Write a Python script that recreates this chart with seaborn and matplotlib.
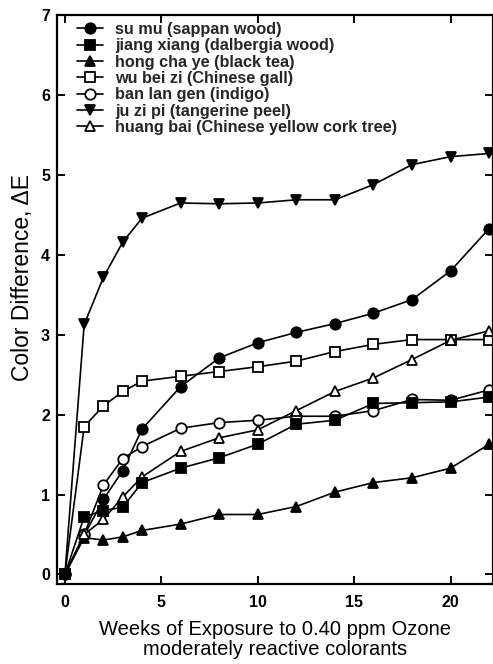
import numpy as np
import pandas as pd
import matplotlib
matplotlib.use("Agg")
import matplotlib.pyplot as plt
import seaborn as sns

# DADOS
semanas = [0, 1, 2, 3, 4, 6, 8, 10, 12, 14, 16, 18, 20, 22]

su_mu = [0, 0.49, 0.94, 1.30, 1.82, 2.35, 2.71, 2.90, 3.03, 3.14, 3.27, 3.44, 3.80, 4.33]
jiang_xiang = [0, 0.72, 0.80, 0.84, 1.15, 1.33, 1.46, 1.63, 1.88, 1.93, 2.14, 2.15, 2.16, 2.22]
hong_cha_ye = [0, 0.46, 0.43, 0.47, 0.55, 0.63, 0.75, 0.75, 0.85, 1.03, 1.15, 1.21, 1.33, 1.63]
wu_bei_zi = [0, 1.85, 2.11, 2.29, 2.42, 2.48, 2.54, 2.60, 2.67, 2.79, 2.88, 2.94, 2.94, 2.94]
ban_lan_gen = [0, 0.50, 1.12, 1.45, 1.60, 1.83, 1.90, 1.93, 1.98, 1.98, 2.05, 2.19, 2.18, 2.31]
ju_zi_pi = [0, 3.13, 3.72, 4.16, 4.46, 4.65, 4.64, 4.65, 4.69, 4.69, 4.88, 5.13, 5.23, 5.27]
huang_bai = [0, 0.50, 0.69, 0.97, 1.22, 1.54, 1.71, 1.81, 2.05, 2.29, 2.46, 2.69, 2.93, 3.05]

nomes = ["su mu (sappan wood)", "jiang xiang (dalbergia wood)", "hong cha ye (black tea)",
         "wu bei zi (Chinese gall)", "ban lan gen (indigo)", "ju zi pi (tangerine peel)",
         "huang bai (Chinese yellow cork tree)"]
series = [su_mu, jiang_xiang, hong_cha_ye, wu_bei_zi, ban_lan_gen, ju_zi_pi, huang_bai]
marcadores = ["o", "s", "^", "s", "o", "v", "^"]
preenchido = [True, True, True, False, False, True, False]

sns.set_theme(style="ticks")
plt.rcParams['font.family'] = ['Liberation Sans', 'DejaVu Sans']

fig = plt.figure(figsize=(4.93, 6.64), dpi=100)
ax = fig.add_axes([0.1156, 0.1205, 0.8844, 0.8565])

for i, (nome, vals, mk, cheio) in enumerate(zip(nomes, series, marcadores, preenchido)):
    df = pd.DataFrame({'semana': semanas, 'dE': vals})
    # quadrado cheio fica por cima na origem, como no original
    z = 3 if i == 1 else 2
    sns.lineplot(data=df, x='semana', y='dE', ax=ax, color='black', linewidth=1.2,
                 marker=mk, markersize=7.5, markeredgewidth=1.3,
                 markerfacecolor='black' if cheio else 'white',
                 markeredgecolor='black', label=nome, zorder=z)

ax.set_xlim(-0.41, 22.2)
ax.set_ylim(-0.12, 7)
ax.set_xticks([0, 5, 10, 15, 20])
ax.set_yticks(range(0, 8))

for s in ax.spines.values():
    s.set_linewidth(1.6)
    s.set_color('black')
    s.set_zorder(4)
ax.tick_params(direction='in', length=6, width=1.4, top=True, right=True,
               labelsize=11.5, colors='black')
ax.tick_params(axis='x', pad=8)
ax.tick_params(axis='y', pad=5)
for lb in ax.get_xticklabels() + ax.get_yticklabels():
    lb.set_fontweight('bold')

ax.set_xlabel('Weeks of Exposure to 0.40 ppm Ozone\nmoderately reactive colorants',
              fontsize=14.5, labelpad=7, color='black', linespacing=1.1)
ax.set_ylabel('Color Difference, ΔE', fontsize=16.5, color='black')
ax.yaxis.set_label_coords(-0.053, 0.539)

leg = ax.legend(loc='upper left', bbox_to_anchor=(0.045, 0.988), frameon=False,
                handlelength=1.6, handletextpad=0.75, labelspacing=0.08,
                borderaxespad=0, borderpad=0,
                prop={'weight': 'bold', 'size': 11.7})

plt.savefig('out.png', dpi=100)
